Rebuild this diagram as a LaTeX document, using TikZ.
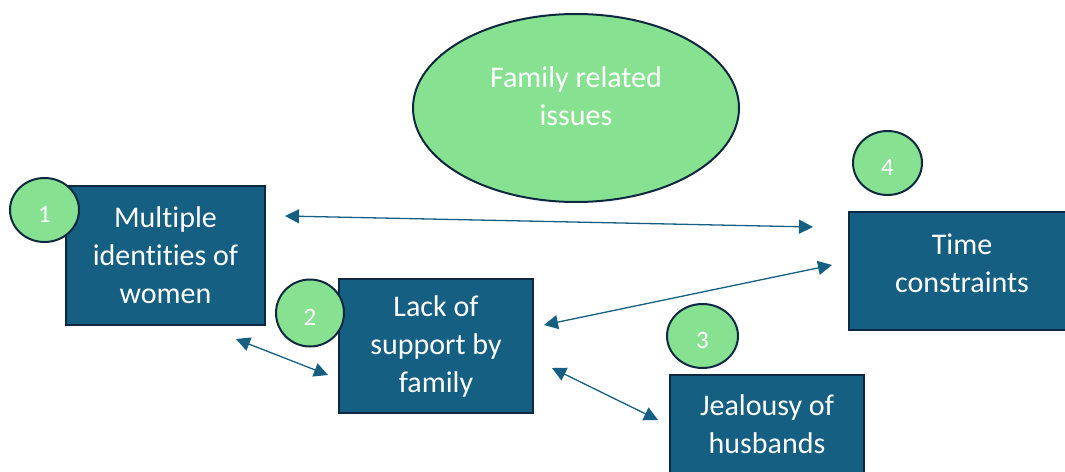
\documentclass[tikz,border=0pt]{standalone}
\usepackage{fontspec}
\setmainfont[RawFeature=-liga]{Carlito}
\usepackage{tikz}
\usetikzlibrary{shapes.geometric,positioning,arrows.meta}
\definecolor{box-blue}{RGB}{21,96,130}
\definecolor{edge-navy}{RGB}{14,40,65}
\definecolor{soft-green}{RGB}{134,226,144}
\tikzset{>={Triangle[width=14pt,length=14pt]}}
\tikzset{
    issuebox/.style={rectangle, draw=edge-navy, line width=2pt, fill=box-blue,
        text=white, align=center, inner sep=0pt,
        font=\fontsize{30}{38}\selectfont},
    issuetext/.style={text=white, align=center, inner sep=0pt,
        font=\fontsize{30}{38}\selectfont},
    numbadge/.style={ellipse, draw=edge-navy, line width=2pt, fill=soft-green,
        text=white, inner sep=0pt, text height=25pt, text depth=0pt,
        font=\fontsize{25}{28}\selectfont},
    link/.style={<->, box-blue, line width=1.3pt}
}

\begin{document}
\begin{tikzpicture}[x=1pt,y=-1pt]
    \useasboundingbox (0,0) rectangle (1065,471);

    % the main theme
    \node (theme) [ellipse, draw=edge-navy, line width=2pt, fill=soft-green,
        minimum width=326pt, minimum height=188pt] at (576,108) {};
    \node (themetext) [issuetext] at ([yshift=12pt]theme.center)
        {Family related\\issues};

    % the four issues
    \node (b1) [issuebox, minimum width=199pt, minimum height=139pt] at (165.5,255.5)
        {Multiple\\identities of\\women};
    \node (b2) [issuebox, minimum width=194pt, minimum height=134pt] at (436,346)
        {Lack of\\support by\\family};
    \node (b3) [issuebox, minimum width=194pt, minimum height=98pt] at (767,424)
        {Jealousy of\\husbands};
    \node (b4) [issuebox, minimum width=226pt, minimum height=118pt] at (962,271) {};
    \node (b4text) [issuetext] at ([yshift=8pt]b4.center) {Time\\constraints};

    \node (c1) [numbadge, minimum width=69pt, minimum height=64pt] at (44.5,210) {1};
    \node (c2) [numbadge, minimum width=68pt, minimum height=67pt] at (310,313) {2};
    \node (c3) [numbadge, minimum width=71pt, minimum height=64pt] at (702.5,336) {3};
    \node (c4) [numbadge, minimum width=69pt, minimum height=64pt] at (887.5,163) {4};

    % links between issues
    \draw [link] ([shift={(19,-39.5)}]b1.east) -- ([shift={(-35,-44)}]b4.west);
    \draw [link] ([shift={(10,-21)}]b2.east) -- ([shift={(-16,-6)}]b4.west);
    \draw [link] ([shift={(70.5,13)}]b1.south) -- ([shift={(-10,29)}]b2.west);
    \draw [link] ([shift={(18,22)}]b2.east) -- ([shift={(-11,-4)}]b3.west);

\end{tikzpicture}
\end{document}
